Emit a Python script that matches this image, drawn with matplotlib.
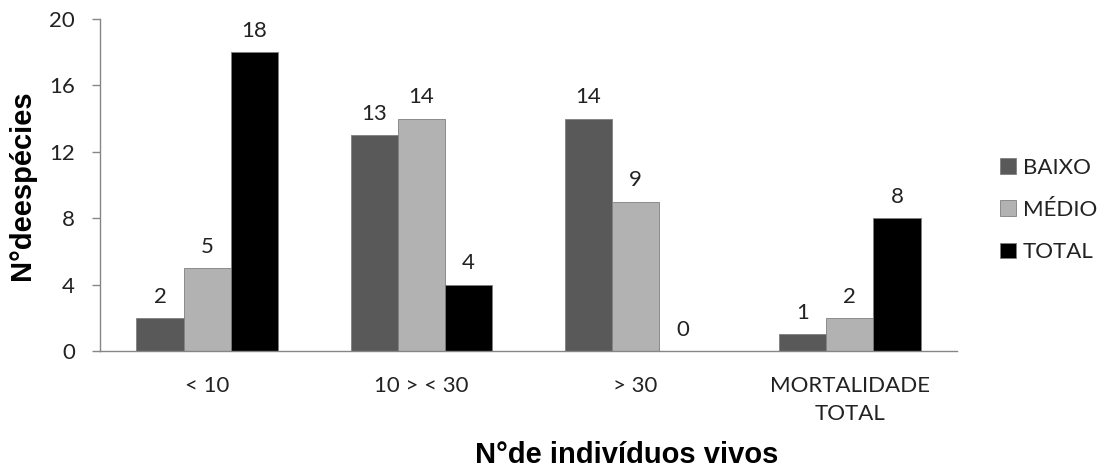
"""
    Bar chart: number of species per class of living individuals
"""

import numpy as np
import matplotlib
matplotlib.use("Agg")
import matplotlib.pyplot as plt

categories = ["< 10", "10 > < 30", "> 30", "MORTALIDADE\nTOTAL"]
series_names = ["BAIXO", "MÉDIO", "TOTAL"]
baixo = [2, 13, 14, 1]
medio = [5, 14, 9, 2]
total = [18, 4, 0, 8]
yticks = [0, 4, 8, 12, 16, 20]

colors = ["#595959", "#b2b2b2", "#000000"]
TEXT = "#222222"
AXCOL = "#868686"

plt.rcParams["font.family"] = ["Lato", "DejaVu Sans"]

fig = plt.figure(figsize=(10.99, 4.71), dpi=100)
ax = fig.add_axes([0.091, 0.2548, 0.7798, 0.7049])

x = np.arange(len(categories))
width = 0.22
for i, (vals, name) in enumerate(zip([baixo, medio, total], series_names)):
    bars = ax.bar(x + (i - 1) * width, vals, width, color=colors[i], label=name,
                  edgecolor="#7f7f7f", linewidth=0.6)
    ax.bar_label(bars, padding=8, fontsize=16, color=TEXT)

ax.set_xlim(-0.5, len(categories) - 0.5)
ax.set_ylim(0, 20)
ax.set_yticks(yticks)
ax.set_xticks(x)
ax.set_xticklabels(categories, linespacing=1.5)

for s in ["top", "right"]:
    ax.spines[s].set_visible(False)
for s in ["left", "bottom"]:
    ax.spines[s].set_color(AXCOL)
    ax.spines[s].set_linewidth(1.0)

ax.tick_params(axis="y", direction="out", length=6, width=1, color=AXCOL,
               pad=12, labelsize=16, labelcolor=TEXT)
ax.tick_params(axis="x", length=0, pad=18, labelsize=16, labelcolor=TEXT)

ax.set_ylabel("N°deespécies", fontsize=21, fontweight="bold",
              family="Liberation Sans")
ax.yaxis.set_label_coords(-0.0747, 0.5)
# reference crops this label at the bottom edge; kept just inside here
ax.set_xlabel("N°de indivíduos vivos", fontsize=21, fontweight="bold",
              family="Liberation Sans", va="baseline")
ax.xaxis.set_label_coords(0.614, -0.338)

fig.legend(loc="center left", bbox_to_anchor=(0.91, 0.554), frameon=False,
           fontsize=16, handlelength=0.72, handleheight=0.72,
           handletextpad=0.3, labelspacing=1.0, borderpad=0, borderaxespad=0,
           labelcolor=TEXT)

fig.savefig("out.png", dpi=100)
